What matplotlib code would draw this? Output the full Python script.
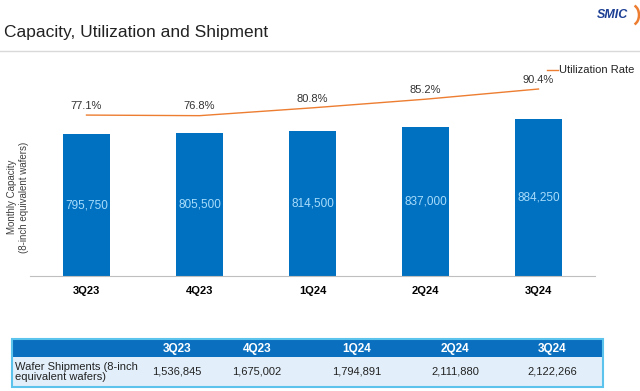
import numpy as np
import matplotlib.pyplot as plt
from matplotlib.patches import Rectangle, Arc

plt.rcParams['font.family'] = ['Liberation Sans', 'DejaVu Sans']

quarters = ['3Q23', '4Q23', '1Q24', '2Q24', '3Q24']
capacity = [795750, 805500, 814500, 837000, 884250]
utilization = [77.1, 76.8, 80.8, 85.2, 90.4]
shipments = [1536845, 1675002, 1794891, 2111880, 2122266]

bar_blue = '#0070C0'
orange = '#ED7D31'

W, H = 640, 391
fig = plt.figure(figsize=(W / 100, H / 100), dpi=100)


def box(x0, y0, x1, y1):
    # pixel box (top-left origin) -> figure fraction rect
    return [x0 / W, 1 - y1 / H, (x1 - x0) / W, (y1 - y0) / H]


# main chart
ax = fig.add_axes(box(30, 60, 595, 276))
ax.set_facecolor('none')
x = np.arange(len(quarters))
bars = ax.bar(x, capacity, width=0.41, color=bar_blue)
ax.set_xlim(-0.5, 4.5)
ax.set_ylim(0, 1213900)
for b, v in zip(bars, capacity):
    ax.text(b.get_x() + b.get_width() / 2, v / 2, f'{v:,}', ha='center',
            va='center', color='#a8dcfb', fontsize=8.5)

ax.set_xticks(x)
ax.set_xticklabels(quarters, fontweight='bold', fontsize=8)
ax.tick_params(axis='x', length=0, pad=7)
ax.set_yticks([])
for s in ['top', 'right', 'left']:
    ax.spines[s].set_visible(False)
ax.spines['bottom'].set_color('#bfbfbf')

ax2 = ax.twinx()
ax2.plot(x, utilization, color=orange, lw=1)
ax2.set_ylim(-5.0, 105.2)
ax2.axis('off')
for xi, u in zip(x, utilization):
    ax2.annotate(f'{u}%', (xi, u), xytext=(0, 3), textcoords='offset points',
                 ha='center', va='bottom', fontsize=8, color='#333333')

# overlay in pixel coords for title, rule, logo, legend, table
bg = fig.add_axes([0, 0, 1, 1])
bg.set_facecolor('none')
bg.set_xlim(0, W)
bg.set_ylim(H, 0)
bg.axis('off')

bg.text(4, 32, 'Capacity, Utilization and Shipment', fontsize=12.5,
        color='#222222', va='center', ha='left')
bg.plot([0, W], [51, 51], color='#d9d9d9', lw=1)
bg.text(597, 15, 'SMIC', fontsize=9, fontweight='bold', fontstyle='italic',
        color='#1c3f94', va='center', ha='left')
bg.add_patch(Arc((632, 15), 14, 20, theta1=-75, theta2=75, color=orange,
                 lw=1.8))

# legend
bg.plot([547, 558], [70, 70], color=orange, lw=1)
bg.text(559, 70, 'Utilization Rate', fontsize=8, va='center', ha='left',
        color='#222222')

# y label
fig.text(12 / W, 1 - 197 / H, 'Monthly Capacity', rotation=90, fontsize=7,
         ha='center', va='center', color='#404040')
fig.text(24 / W, 1 - 197 / H, '(8-inch equivalent wafers)', rotation=90,
         fontsize=7, ha='center', va='center', color='#404040')

# shipment table
tx0, tx1 = 12, 603
ty0, ty1, ty2 = 339, 357, 387
col_x = [177, 257, 357, 455, 552]
bg.add_patch(Rectangle((tx0, ty0), tx1 - tx0, ty1 - ty0, facecolor='#0a6fbf',
                       edgecolor='none'))
bg.add_patch(Rectangle((tx0, ty1), tx1 - tx0, ty2 - ty1, facecolor='#e2effa',
                       edgecolor='none'))
bg.add_patch(Rectangle((tx0, ty0), tx1 - tx0, ty2 - ty0, facecolor='none',
                       edgecolor='#5cc3ec', lw=1.5))
for cx, q, s in zip(col_x, quarters, shipments):
    bg.text(cx, (ty0 + ty1) / 2 + 1, q, ha='center', va='center',
            color='white', fontweight='bold', fontsize=8.5)
    bg.text(cx, (ty1 + ty2) / 2, f'{s:,}', ha='center', va='center',
            color='#222222', fontsize=8)
bg.text(15, (ty1 + ty2) / 2, 'Wafer Shipments (8-inch\nequivalent wafers)',
        ha='left', va='center', fontsize=8, color='#222222', linespacing=1.1)

fig.savefig('out.png', dpi=100)
